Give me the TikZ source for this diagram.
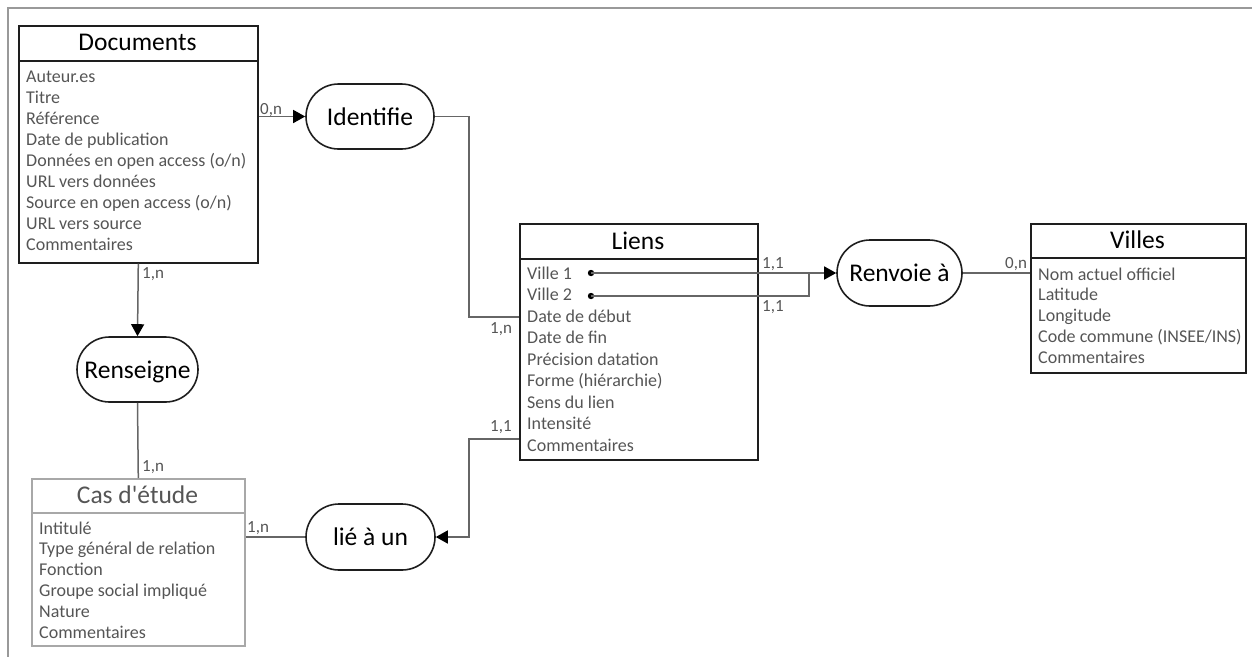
\documentclass[tikz,border=0pt]{standalone}
\usepackage{fontspec}
\setmainfont{Carlito}
\usetikzlibrary{shapes.misc,arrows.meta}
\definecolor{attr}{HTML}{555555}
\definecolor{conncol}{HTML}{666666}
\definecolor{boxcol}{HTML}{1E1E1E}
\definecolor{greybox}{HTML}{A8A8A8}
\definecolor{framecol}{HTML}{999999}
\tikzset{
  entbox/.style={draw=boxcol, line width=1.6pt, anchor=north west, inner sep=0pt},
  greyent/.style={entbox, draw=greybox},
  sepline/.style={draw=boxcol, line width=1.6pt},
  title/.style={font=\fontsize{25.5}{30}\selectfont, anchor=base, inner sep=0pt},
  attrtxt/.style={font=\fontsize{18}{21}\selectfont, text=attr, anchor=base west, inner sep=0pt},
  pill/.style={draw=boxcol, line width=1.6pt, rounded rectangle, inner sep=0pt,
    text height=17pt, text depth=0pt, font=\fontsize{25.5}{30}\selectfont},
  conn/.style={draw=conncol, line width=1.5pt},
  tip/.style={-{Triangle[length=12pt,width=13pt,color=black]}},
  card/.style={font=\fontsize{17}{20}\selectfont, text=attr, anchor=base west, inner sep=0pt},
}
\begin{document}
\begin{tikzpicture}[x=1pt,y=-1pt]
\useasboundingbox (0,0) rectangle (1252,656);
% frame
\draw[framecol, line width=2pt] (8,670) -- (8,8) -- (1270,8);

% Documents
\node[entbox, minimum width=239pt, minimum height=237pt] (doc) at (18,25) {};
\draw[sepline] (18,61) -- (257,61);
\node[title] (doc-t) at (137.5,50.7) {Documents};
\foreach \t [count=\i] in {{Auteur.es},{Titre},{Référence},{Date de publication},{Données en open access (o/n)},{URL vers données},{Source en open access (o/n)},{URL vers source},{Commentaires}}
  \node[attrtxt] (doc-\i) at (26,{82+21*(\i-1)}) {\t};

% Liens
\node[entbox, minimum width=238pt, minimum height=236pt] (liens) at (519,223) {};
\draw[sepline] (519,259) -- (757,259);
\node[title] (liens-t) at (638,249) {Liens};
\foreach \t [count=\i] in {{Ville 1},{Ville 2},{Date de début},{Date de fin},{Précision datation},{Forme (hiérarchie)},{Sens du lien},{Intensité},{Commentaires}}
  \node[attrtxt] (liens-\i) at (527,{279+21.5*(\i-1)}) {\t};

% Villes
\node[entbox, minimum width=215pt, minimum height=149pt] (villes) at (1030,223) {};
\draw[sepline] (1030,258) -- (1245,258);
\node[title] (villes-t) at (1137.5,248) {Villes};
\foreach \t [count=\i] in {{Nom actuel officiel},{Latitude},{Longitude},{Code commune (INSEE/INS)},{Commentaires}}
  \node[attrtxt] (villes-\i) at (1038,{280+20.75*(\i-1)}) {\t};

% Cas d'etude
\node[greyent, minimum width=213pt, minimum height=167pt] (cas) at (31,478) {};
\draw[sepline, draw=greybox] (31,513) -- (244,513);
\node[title, text=attr] (cas-t) at (137.5,503) {Cas d\textquotesingle étude};
\foreach \t [count=\i] in {{Intitulé},{Type général de relation},{Fonction},{Groupe social impliqué},{Nature},{Commentaires}}
  \node[attrtxt] (cas-\i) at (39,{534+20.8*(\i-1)}) {\t};

% relations
\node[pill, minimum width=128pt, minimum height=65pt] (ident) at (370,116.5) {Identifie};
\node[pill, minimum width=121pt, minimum height=65pt] (rens) at (137.5,369.5) {Renseigne};
\node[pill, minimum width=129pt, minimum height=66pt] (lie) at (370.5,537) {lié à un};
\node[pill, minimum width=125pt, minimum height=66pt] (renv) at (899.5,273) {Renvoie à};

% connectors
\draw[conn, tip] (doc.east |- ident) -- (ident.west);
\coordinate (c1) at (469,317);
\draw[conn] (ident.east) -| (c1) -- (liens.west |- c1);
\draw[conn, tip] (doc.south) -- (rens.north);
\draw[conn] (rens.south) -- (cas.north);
\draw[conn] (cas.east |- lie) -- (lie.west);
\coordinate (c2) at (469,439);
\draw[conn, tip] (liens.west |- c2) -- (c2) |- (lie.east);
\coordinate (v1) at (591,273);
\coordinate (v2) at (591,296);
\coordinate (j) at (809,273);
\fill[black] (v1) circle (3.2pt);
\fill[black] (v2) circle (3.2pt);
\draw[conn, tip] (v1) -- (renv.west);
\draw[conn] (v2) -| (j);
\draw[conn] (renv.east) -- (villes.west |- renv);

% cardinalities
\node[card] (k1) at (260,114) {0,n};
\node[card] (k2) at (142,278) {1,n};
\node[card] (k3) at (142,471) {1,n};
\node[card] (k4) at (247,532) {1,n};
\node[card] (k5) at (490,333) {1,n};
\node[card] (k6) at (490,431) {1,1};
\node[card] (k7) at (762,268) {1,1};
\node[card] (k8) at (762,311) {1,1};
\node[card] (k9) at (1005,268) {0,n};
\end{tikzpicture}
\end{document}
